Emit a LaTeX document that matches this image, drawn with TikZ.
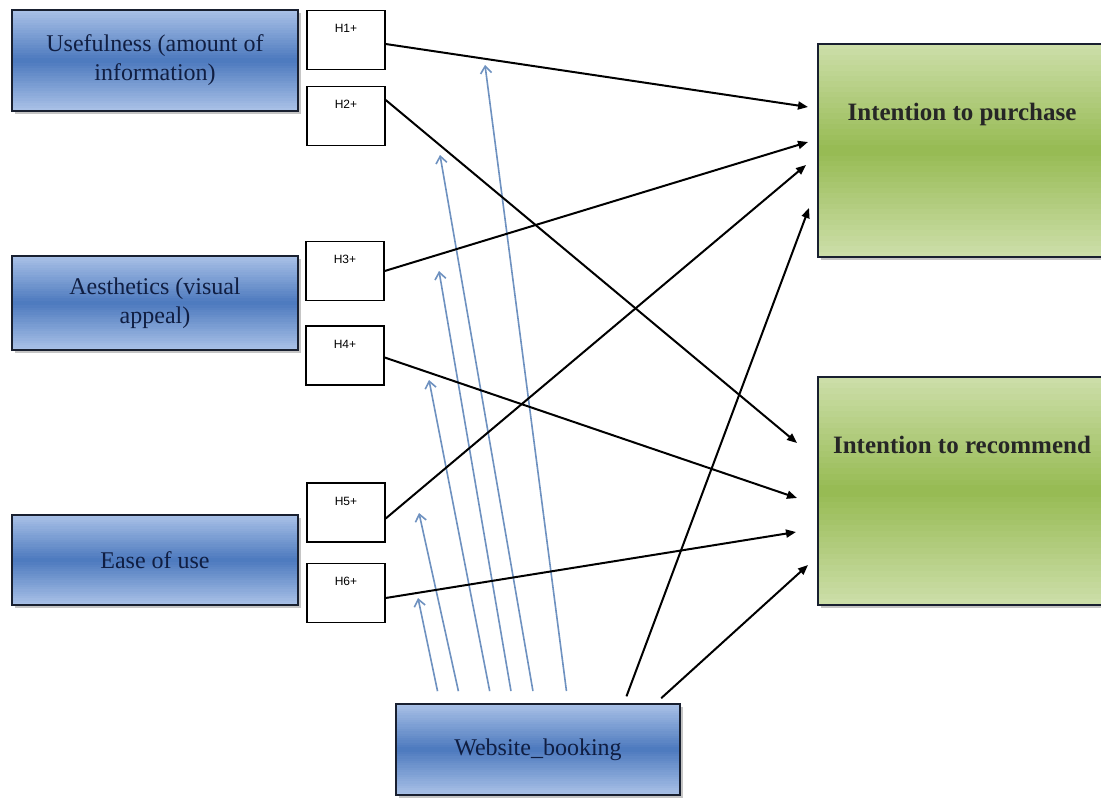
\documentclass[tikz,border=0pt]{standalone}
\usepackage{fontspec}
\setmainfont{Liberation Serif}
\newfontfamily\hfont{Liberation Sans}
\usetikzlibrary{arrows.meta,shadows,calc}
\definecolor{boxblue}{RGB}{76,121,190}
\definecolor{boxbluelt}{RGB}{168,192,230}
\definecolor{boxgreen}{RGB}{150,186,82}
\definecolor{boxgreenlt}{RGB}{204,222,168}
\definecolor{navytext}{RGB}{16,30,66}
\definecolor{linkblue}{RGB}{110,145,192}
\definecolor{boxedge}{RGB}{25,32,48}

\tikzset{
  vgrad/.style 2 args={path picture={
      \foreach \k in {0,...,39}{
        \pgfmathsetmacro\mix{100-abs(\k-19.5)*100/19.5}
        \fill[#1!\mix!#2]
          ($(path picture bounding box.north west)!{\k/40}!(path picture bounding box.south west)$)
          rectangle
          ($(path picture bounding box.north east)!{(\k+1.1)/40}!(path picture bounding box.south east)$);
      }}}
}

\begin{document}
\begin{tikzpicture}[x=0.5pt,y=-0.5pt,
        factor/.style={draw=boxedge,line width=1.1pt,fill=boxbluelt,
                  vgrad={boxblue}{boxbluelt},
                  minimum width=143pt,align=center,text=navytext,
                  font=\fontsize{12}{14.5}\selectfont,
                  drop shadow={shadow xshift=1.3pt,shadow yshift=-1.3pt,fill=black!45}},
        outcome/.style={draw=boxedge,line width=1.1pt,fill=boxgreenlt,
                  vgrad={boxgreen}{boxgreenlt},
                  minimum width=144pt,inner ysep=0pt,text height=38pt,
                  font=\fontsize{12.5}{15}\selectfont\bfseries,text=black!85,
                  drop shadow={shadow xshift=1.3pt,shadow yshift=-1.3pt,fill=black!45}},
        hyp/.style={draw,line width=0.7pt,fill=white,
                  minimum width=39pt,minimum height=29.5pt,inner sep=0pt,
                  text height=11pt,text depth=18.5pt,
                  font=\hfont\fontsize{6}{7}\selectfont},
        path/.style={-{Triangle[length=5pt,width=4pt]},line width=1pt,black},
        mod/.style={-{Straight Barb[length=3.5pt,width=5.5pt]},line width=0.8pt,linkblue,
                  shorten <=6pt}
      ]
        \useasboundingbox[fill=white] (0,0) rectangle (1101,797);

        % predictors
        \node[factor,minimum height=50.5pt] (use) at (155,60.5) {Usefulness (amount of\\information)};
        \node[factor,minimum height=47pt] (aes) at (155,303) {Aesthetics (visual\\appeal)};
        \node[factor,minimum height=45pt] (ease) at (155,560) {Ease of use};
        \node[factor,minimum width=142pt,minimum height=45.5pt] (web) at (538,749.5) {Website\_booking};

        % outcomes
        \node[outcome,minimum height=106.5pt,text depth=68.5pt] (pur) at (962,150.5) {Intention to purchase};
        \node[outcome,minimum height=114pt,text depth=76pt] (rec) at (962,491) {Intention to recommend};

        % hypotheses
        \node[hyp] (h1) at (346,40) {H1+};
        \node[hyp] (h2) at (346,116) {H2+};
        \node[hyp] (h3) at (345,271) {H3+};
        \node[hyp] (h4) at (345,355.5) {H4+};
        \node[hyp] (h5) at (346,512.5) {H5+};
        \node[hyp] (h6) at (346,593) {H6+};

        % arrow tips
        \coordinate (pur1) at (808,107);
        \coordinate (pur3) at (808,142);
        \coordinate (pur5) at (806,165);
        \coordinate (purw) at (809,208);
        \coordinate (rec2) at (797,443);
        \coordinate (rec4) at (797,498);
        \coordinate (rec6) at (796,532);
        \coordinate (recw) at (808,565);

        \coordinate (m1) at (485,65);
        \coordinate (m2) at (440,155);
        \coordinate (m3) at (439,271);
        \coordinate (m4) at (429,380);
        \coordinate (m5) at (419,513);
        \coordinate (m6) at (418,598);

        % moderation
        \foreach \dx/\tip in {15/m1,-1.5/m2,-12.5/m3,-23/m4,-38.5/m5,-49/m6}
          \draw[mod] ([xshift=\dx pt]web.north) -- (\tip);

        % direct paths
        \draw[path] ([yshift=-2pt]h1.east) -- (pur1);
        \draw[path] ([yshift=8pt]h2.east) -- (rec2);
        \draw[path] (h3.east) -- (pur3);
        \draw[path] ([yshift=-1pt]h4.east) -- (rec4);
        \draw[path] ([yshift=-3pt]h5.east) -- (pur5);
        \draw[path] ([yshift=-2.5pt]h6.east) -- (rec6);
        \draw[path,shorten <=3.5pt] ([xshift=43pt]web.north) -- (purw);
        \draw[path,shorten <=3.5pt] ([xshift=59pt]web.north) -- (recw);
      \end{tikzpicture}
\end{document}
